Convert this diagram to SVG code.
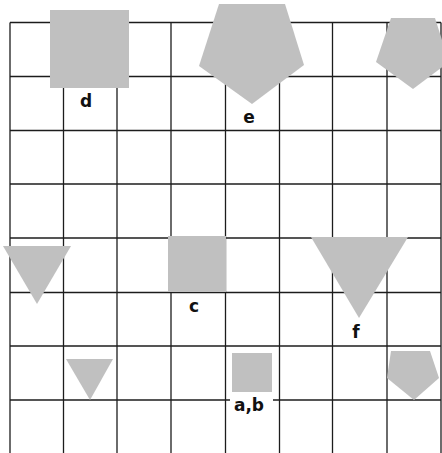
<svg xmlns="http://www.w3.org/2000/svg" width="442" height="453" viewBox="0 0 442 453">
<style>
.grid{stroke:#1c1c1c;stroke-width:1.3;fill:none}
.shape{fill:#c0c0c0;stroke:none}
.lblbg{fill:#ffffff}
.lbl{font-family:"DejaVu Sans",sans-serif;font-weight:bold;font-size:17px;fill:#111;text-anchor:middle}
</style>
<rect width="442" height="453" fill="#ffffff"/>
<g id="grid" class="grid">
<line x1="10" y1="22.5" x2="10" y2="453"/>
<line x1="63.5" y1="22.5" x2="63.5" y2="453"/>
<line x1="117" y1="22.5" x2="117" y2="453"/>
<line x1="171" y1="22.5" x2="171" y2="453"/>
<line x1="225.5" y1="22.5" x2="225.5" y2="453"/>
<line x1="279.5" y1="22.5" x2="279.5" y2="453"/>
<line x1="332.5" y1="22.5" x2="332.5" y2="453"/>
<line x1="387" y1="22.5" x2="387" y2="453"/>
<line x1="441" y1="22.5" x2="441" y2="453"/>
<line x1="10" y1="22.5" x2="441" y2="22.5"/>
<line x1="10" y1="76.5" x2="441" y2="76.5"/>
<line x1="10" y1="130.5" x2="441" y2="130.5"/>
<line x1="10" y1="184" x2="441" y2="184"/>
<line x1="10" y1="238" x2="441" y2="238"/>
<line x1="10" y1="292.5" x2="441" y2="292.5"/>
<line x1="10" y1="346" x2="441" y2="346"/>
<line x1="10" y1="400" x2="441" y2="400"/>
</g>
<g id="d">
<rect class="shape" x="50" y="10" width="79" height="78"/>
<rect class="lblbg" x="77" y="90" width="18" height="20"/>
<text class="lbl" x="86" y="107">d</text>
</g>
<g id="e">
<polygon class="shape" points="219,4 285,4 304,65 252,104 199,66"/>
<text class="lbl" x="249" y="123">e</text>
</g>
<g id="pentagon-top-right">
<polygon class="shape" points="391,18 435,18 449,62 413,89 376,62"/>
</g>
<g id="triangle-left">
<polygon class="shape" points="3,246 71,246 37,304"/>
</g>
<g id="c">
<rect class="shape" x="168" y="236" width="58" height="56"/>
<text class="lbl" x="194" y="312">c</text>
</g>
<g id="f">
<polygon class="shape" points="311,237 408,237 359,318"/>
<text class="lbl" x="356" y="338">f</text>
</g>
<g id="triangle-small">
<polygon class="shape" points="66,359 113,359 90,400"/>
</g>
<g id="ab">
<rect class="shape" x="232" y="353" width="40" height="39"/>
<rect class="lblbg" x="230" y="393" width="43" height="20"/>
<text class="lbl" x="249" y="411">a,b</text>
</g>
<g id="pentagon-bottom-right">
<polygon class="shape" points="391,351 430,351 439,378 414,400 387,378"/>
</g>
</svg>
